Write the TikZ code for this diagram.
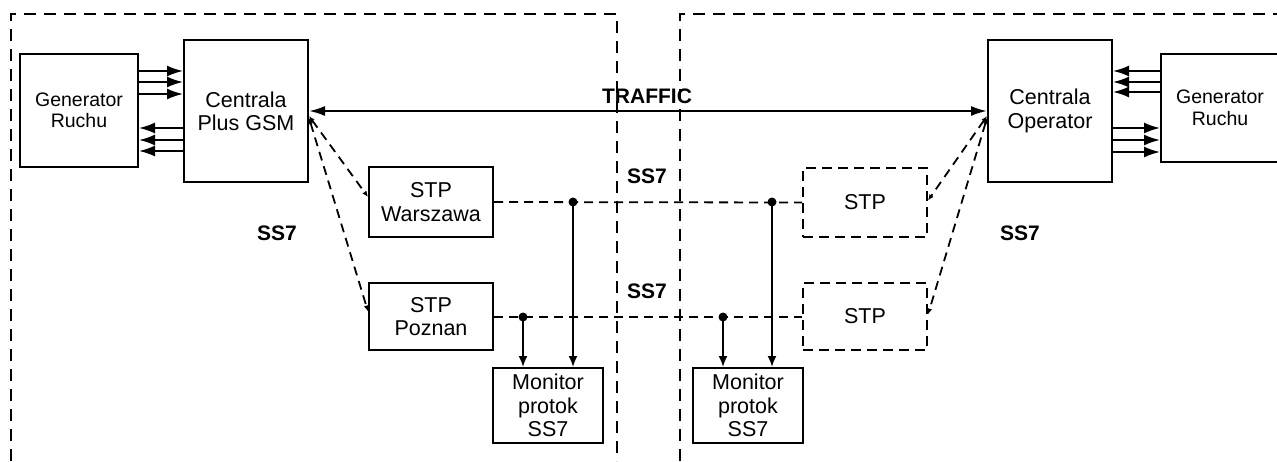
\documentclass[tikz,border=0pt]{standalone}
\usepackage{fontspec}
\setmainfont{Liberation Sans}
\usetikzlibrary{arrows.meta}
\tikzset{
  box/.style={draw, line width=2pt, align=center, inner sep=0pt, font=\fontsize{21.5}{23.3}\selectfont},
  genbox/.style={box, font=\fontsize{19.5}{21.5}\selectfont},
  dbox/.style={box, dash pattern=on 10pt off 6pt},
  region/.style={line width=2pt, dash pattern=on 12pt off 8pt},
  arr/.style={line width=1.8pt, -{Latex[length=16pt,width=11pt]}},
  marr/.style={line width=1.8pt, -{Latex[length=11pt,width=9pt]}},
  sig/.style={line width=1.8pt, dash pattern=on 9pt off 6pt},
  sigarr/.style={sig, {Latex[length=6pt,width=5pt]}-{Latex[length=6pt,width=5pt]}},
  lbl/.style={font=\bfseries\fontsize{21}{23}\selectfont, inner sep=0pt},
  dot/.style={circle, fill, inner sep=0pt, minimum size=9pt},
}
\begin{document}
\begin{tikzpicture}[x=1pt,y=-1pt]
\useasboundingbox (0,0) rectangle (1277,461);
% regions
\draw[region] (11,461) -- (11,14) -- (617,14) -- (617,461);
\draw[region] (1285,14) -- (680,14) -- (680,461);
% nodes
\node[genbox, minimum width=118pt, minimum height=113pt] (gen1) at (79,110.5) {Generator\\Ruchu};
\node[box, minimum width=124pt, minimum height=142pt] (cen1) at (246,111) {Centrala\\Plus GSM};
\node[box, minimum width=124pt, minimum height=142pt] (cen2) at (1050,111) {Centrala\\Operator};
\node[genbox, minimum width=118pt, minimum height=108pt] (gen2) at (1220,108) {Generator\\Ruchu};
\node[box, minimum width=124pt, minimum height=70pt] (stpw) at (431,202) {STP\\Warszawa};
\node[box, minimum width=124pt, minimum height=67pt] (stpp) at (431,316.5) {STP\\Poznan};
\node[dbox, minimum width=124pt, minimum height=69pt] (stp1) at (865,202.5) {STP};
\node[dbox, minimum width=124pt, minimum height=67pt] (stp2) at (865,316.5) {STP};
\node[box, minimum width=110pt, minimum height=75pt] (mon1) at (548,405.5) {Monitor\\protok\\SS7};
\node[box, minimum width=110pt, minimum height=75pt] (mon2) at (748,405.5) {Monitor\\protok\\SS7};
% labels
\node[lbl] (traffic) at (647,96) {TRAFFIC};
\node[lbl] (ss7a) at (277,233) {SS7};
\node[lbl] (ss7b) at (1020,233) {SS7};
\node[lbl] (ss7c) at (647,176) {SS7};
\node[lbl] (ss7d) at (647,291) {SS7};
% generator <-> centrala arrows
\foreach \y in {71,82,94} \draw[arr] (gen1.east |- 0,\y) -- (cen1.west |- 0,\y);
\foreach \y in {128,140,151} \draw[arr] (cen1.west |- 0,\y) -- (gen1.east |- 0,\y);
\foreach \y in {71,82,92} \draw[arr] (gen2.west |- 0,\y) -- (cen2.east |- 0,\y);
\foreach \y in {128,140,152} \draw[arr] (cen2.east |- 0,\y) -- (gen2.west |- 0,\y);
% traffic
\draw[line width=2pt, {Latex[length=16pt,width=10pt]}-{Latex[length=16pt,width=10pt]}] (cen1.east) -- (cen2.west);
% signalling links
\draw[sigarr] ([yshift=-5pt]cen1.east) -- ([yshift=5pt]stpw.west);
\draw[sigarr] ([yshift=-7pt]cen1.east) -- ([yshift=5pt]stpp.west);
\draw[sigarr] ([yshift=-5pt]cen2.west) -- ([yshift=2pt]stp1.east);
\draw[sigarr] ([yshift=-7pt]cen2.west) -- ([yshift=2pt]stp2.east);
\draw[sig] (stpw.east) -- (stp1.west);
\draw[sig] (stpp.east |- 0,317) -- (stp2.west |- 0,317);
% taps
\node[dot] (d1) at (573,202) {};
\node[dot] (d2) at (523,317) {};
\node[dot] (d3) at (723,317) {};
\node[dot] (d4) at (772,202) {};
\draw[marr] (d1.center) -- (mon1.north -| d1);
\draw[marr] (d2.center) -- (mon1.north -| d2);
\draw[marr] (d3.center) -- (mon2.north -| d3);
\draw[marr] (d4.center) -- (mon2.north -| d4);
\end{tikzpicture}
\end{document}
